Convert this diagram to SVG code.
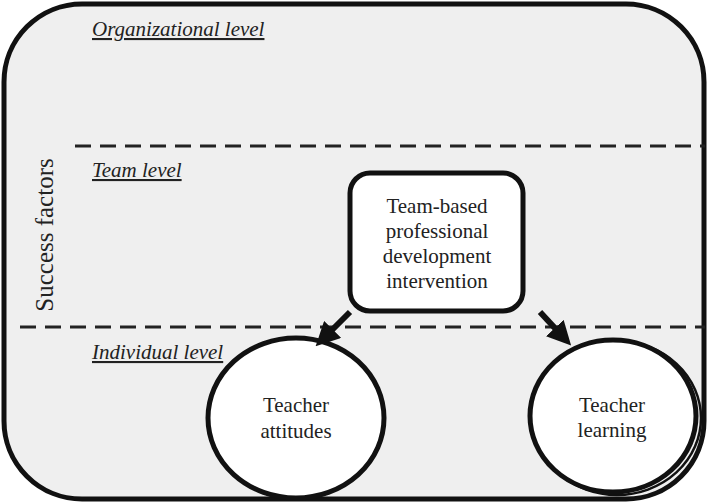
<svg xmlns="http://www.w3.org/2000/svg" width="709" height="504" viewBox="0 0 709 504">
<style>
.t{font-family:"Liberation Serif",serif;font-size:21px;fill:#222;text-anchor:middle}
.lv{font-family:"Liberation Serif",serif;font-size:21px;font-style:italic;text-decoration:underline;fill:#222}
.dash{stroke:#222;stroke-width:3;stroke-dasharray:16,9;fill:none}
.node{fill:#fff;stroke:#111;stroke-width:5}
</style>
<defs><marker id="ah" markerWidth="4" markerHeight="4" refX="2.5" refY="2" orient="auto"><path d="M0,0 L4,2 L0,4 Z" fill="#111"/></marker></defs>
<rect x="4" y="4" width="700" height="495" rx="78" fill="#efefef" stroke="#111" stroke-width="5"/>
<line class="dash" x1="75" y1="146" x2="705" y2="146"/>
<line class="dash" x1="20" y1="327" x2="705" y2="327"/>
<text class="lv" x="92" y="36">Organizational level</text>
<text class="lv" x="92" y="177">Team level</text>
<text class="lv" x="92" y="359">Individual level</text>
<text class="t" transform="translate(53,235) rotate(-90)" style="font-size:25px">Success factors</text>
<g id="intervention"><rect class="node" x="350" y="173" width="173" height="138" rx="20"/>
<text class="t" x="437" y="213">Team-based</text><text class="t" x="437" y="238">professional</text><text class="t" x="437" y="263">development</text><text class="t" x="437" y="288">intervention</text></g>
<g id="attitudes"><ellipse class="node" cx="296" cy="418" rx="88" ry="80"/>
<text class="t" x="296" y="412">Teacher</text><text class="t" x="296" y="438">attitudes</text></g>
<g id="learning"><ellipse cx="617" cy="418" rx="84" ry="77" fill="none" stroke="#111" stroke-width="2.5"/><ellipse class="node" cx="613" cy="416" rx="83" ry="76"/>
<text class="t" x="612" y="412">Teacher</text><text class="t" x="612" y="437">learning</text></g>
<g id="connectors" stroke="#111" stroke-width="6">
<line x1="350" y1="312" x2="322" y2="340" marker-end="url(#ah)"/>
<line x1="540" y1="312" x2="565" y2="339" marker-end="url(#ah)"/>
</g>
</svg>
